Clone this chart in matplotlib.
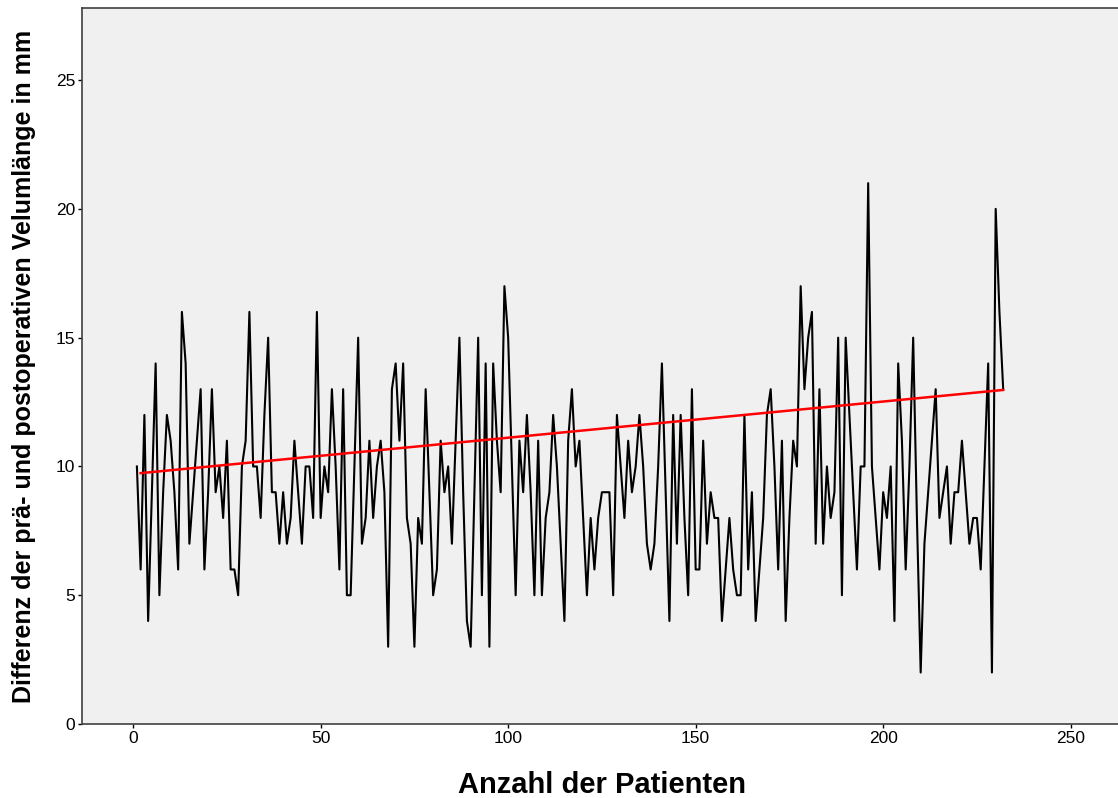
import numpy as np
from matplotlib import pyplot as plt

# Differenz der prae- und postoperativen Velumlaenge (mm) je Patient
patients = list(range(1, 233))
differenz = [
    10, 6, 12, 4, 9, 14, 5, 9, 12, 11,
    9, 6, 16, 14, 7, 9, 11, 13, 6, 9,
    13, 9, 10, 8, 11, 6, 6, 5, 10, 11,
    16, 10, 10, 8, 12, 15, 9, 9, 7, 9,
    7, 8, 11, 9, 7, 10, 10, 8, 16, 8,
    10, 9, 13, 10, 6, 13, 5, 5, 10, 15,
    7, 8, 11, 8, 10, 11, 9, 3, 13, 14,
    11, 14, 8, 7, 3, 8, 7, 13, 9, 5,
    6, 11, 9, 10, 7, 11, 15, 9, 4, 3,
    9, 15, 5, 14, 3, 14, 11, 9, 17, 15,
    10, 5, 11, 9, 12, 9, 5, 11, 5, 8,
    9, 12, 10, 7, 4, 11, 13, 10, 11, 8,
    5, 8, 6, 8, 9, 9, 9, 5, 12, 10,
    8, 11, 9, 10, 12, 10, 7, 6, 7, 10,
    14, 9, 4, 12, 7, 12, 8, 5, 13, 6,
    6, 11, 7, 9, 8, 8, 4, 6, 8, 6,
    5, 5, 12, 6, 9, 4, 6, 8, 12, 13,
    10, 6, 11, 4, 8, 11, 10, 17, 13, 15,
    16, 7, 13, 7, 10, 8, 9, 15, 5, 15,
    12, 9, 6, 10, 10, 21, 10, 8, 6, 9,
    8, 10, 4, 14, 11, 6, 10, 15, 8, 2,
    7, 9, 11, 13, 8, 9, 10, 7, 9, 9,
    11, 9, 7, 8, 8, 6, 10, 14, 2, 20,
    16, 13,
]

# lineare Anpassungslinie (Start/Ende)
fit_x = [2, 232]
fit_y = [9.74, 12.97]

fig = plt.figure(figsize=(11.18, 7.98), dpi=100)
ax = fig.add_axes([0.0733, 0.0927, 0.93, 0.8973])
ax.set_facecolor('#f0f0f0')

ax.plot(patients, differenz, color='black', linewidth=1.5)
ax.plot(fit_x, fit_y, color='#ff0000', linewidth=1.8)

ax.set_xlim(-13.65, 263.6)
ax.set_ylim(0, 27.8)
ax.set_xticks([0, 50, 100, 150, 200, 250])
ax.set_yticks([0, 5, 10, 15, 20, 25])
ax.tick_params(direction='out', length=3, width=1, pad=2, labelsize=12.5, colors='black')
for lab in ax.get_xticklabels() + ax.get_yticklabels():
    lab.set_fontfamily('Liberation Sans')
for side in ['top', 'left', 'bottom', 'right']:
    ax.spines[side].set_color('#404040')
    ax.spines[side].set_linewidth(1.2)

ax.set_xlabel('Anzahl der Patienten', fontsize=21, fontweight='bold',
              fontfamily='Liberation Sans', labelpad=18)
ax.set_ylabel('Differenz der prä- und postoperativen Velumlänge in mm', fontsize=18,
              fontweight='bold', fontfamily='Liberation Sans', labelpad=14)

plt.savefig('out.png', dpi=100)
